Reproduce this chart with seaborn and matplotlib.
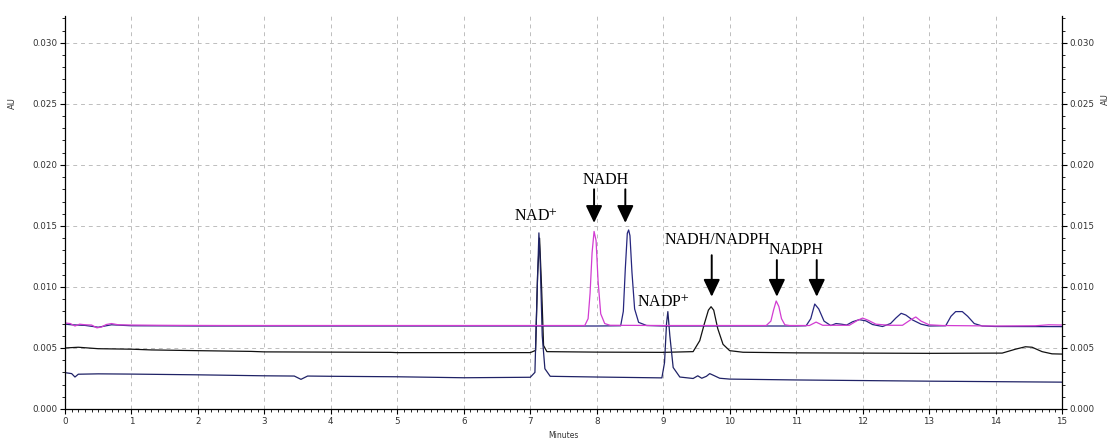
import matplotlib
matplotlib.use("Agg")
import matplotlib.pyplot as plt
from matplotlib.ticker import MultipleLocator, FormatStrFormatter
import seaborn as sns
import pandas as pd

# Chromatogram traces: retention time (min) and absorbance (AU)
magenta_t = [0.00, 0.08, 0.15, 0.22, 0.30, 0.40, 0.48, 0.55, 0.62, 0.70, 0.80, 1.00, 1.40,
             1.75, 2.40, 3.00, 4.00, 5.00, 6.00, 7.00, 7.82, 7.87, 7.90, 7.93, 7.96, 7.99,
             8.02, 8.06, 8.12, 8.20, 9.00, 10.00, 10.55, 10.62, 10.66, 10.70, 10.74, 10.78,
             10.83, 10.90, 11.20, 11.30, 11.40, 11.80, 11.92, 12.00, 12.08, 12.20, 12.40,
             12.60, 12.72, 12.80, 12.88, 13.00, 13.20, 14.00, 14.60, 14.80, 15.00]
magenta_v = [0.00705, 0.00700, 0.00680, 0.00695, 0.00690, 0.00688, 0.00665, 0.00672, 0.00692,
             0.00700, 0.00690, 0.00688, 0.00686, 0.00685, 0.00684, 0.00684, 0.00684, 0.00684,
             0.00684, 0.00684, 0.00684, 0.00740, 0.00950, 0.01280, 0.01455, 0.01380, 0.01050,
             0.00780, 0.00700, 0.00686, 0.00684, 0.00684, 0.00684, 0.00720, 0.00810, 0.00885,
             0.00840, 0.00740, 0.00690, 0.00684, 0.00684, 0.00712, 0.00686, 0.00686, 0.00725,
             0.00745, 0.00728, 0.00695, 0.00686, 0.00686, 0.00730, 0.00754, 0.00720, 0.00690,
             0.00684, 0.00680, 0.00682, 0.00690, 0.00688]

navy_top_t = [0.00, 0.10, 0.30, 0.50, 0.70, 1.00, 2.00, 3.00, 4.00, 5.00, 6.00, 7.00, 8.00,
              8.36, 8.40, 8.43, 8.46, 8.48, 8.50, 8.53, 8.57, 8.63, 8.75, 9.00, 10.00, 11.00,
              11.15, 11.22, 11.28, 11.34, 11.42, 11.52, 11.60, 11.68, 11.76, 11.85, 11.95,
              12.05, 12.15, 12.30, 12.42, 12.50, 12.58, 12.65, 12.75, 12.88, 13.00, 13.25,
              13.33, 13.40, 13.50, 13.58, 13.68, 13.80, 14.00, 15.00]
navy_top_v = [0.00695, 0.00690, 0.00685, 0.00670, 0.00690, 0.00682, 0.00680, 0.00680, 0.00680,
              0.00680, 0.00680, 0.00680, 0.00680, 0.00682, 0.00800, 0.01150, 0.01440, 0.01467,
              0.01420, 0.01120, 0.00820, 0.00710, 0.00684, 0.00680, 0.00680, 0.00680, 0.00682,
              0.00740, 0.00860, 0.00820, 0.00720, 0.00684, 0.00700, 0.00695, 0.00688, 0.00715,
              0.00732, 0.00722, 0.00692, 0.00676, 0.00700, 0.00745, 0.00784, 0.00770, 0.00730,
              0.00695, 0.00680, 0.00682, 0.00760, 0.00798, 0.00798, 0.00760, 0.00700, 0.00680,
              0.00676, 0.00675]

black_t = [0.00, 0.20, 0.50, 1.00, 1.30, 2.00, 2.80, 3.00, 4.00, 4.90, 5.00, 6.00, 7.00, 7.08,
           7.11, 7.14, 7.17, 7.20, 7.25, 8.00, 9.00, 9.45, 9.55, 9.62, 9.68, 9.72, 9.76, 9.82,
           9.90, 10.00, 10.20, 11.00, 12.00, 13.00, 14.10, 14.30, 14.45, 14.55, 14.70, 14.85,
           15.00]
black_v = [0.00500, 0.00506, 0.00494, 0.00490, 0.00484, 0.00478, 0.00472, 0.00468, 0.00466,
           0.00464, 0.00462, 0.00462, 0.00462, 0.00480, 0.01100, 0.01400, 0.01000, 0.00520,
           0.00470, 0.00466, 0.00464, 0.00470, 0.00560, 0.00700, 0.00810, 0.00838, 0.00810,
           0.00660, 0.00530, 0.00478, 0.00465, 0.00460, 0.00458, 0.00456, 0.00458, 0.00490,
           0.00510, 0.00506, 0.00470, 0.00452, 0.00450]

navy_low_t = [0.00, 0.10, 0.15, 0.20, 0.50, 1.00, 2.00, 3.00, 3.45, 3.55, 3.65, 4.00, 5.00,
              6.00, 7.00, 7.07, 7.10, 7.13, 7.15, 7.18, 7.22, 7.30, 8.00, 8.98, 9.02, 9.05,
              9.07, 9.10, 9.15, 9.25, 9.45, 9.52, 9.58, 9.65, 9.70, 9.76, 9.85, 10.00, 11.00,
              13.00, 15.00]
navy_low_v = [0.00298, 0.00290, 0.00262, 0.00285, 0.00288, 0.00286, 0.00280, 0.00272, 0.00270,
              0.00243, 0.00270, 0.00268, 0.00264, 0.00256, 0.00260, 0.00300, 0.00900, 0.01443,
              0.01200, 0.00600, 0.00330, 0.00268, 0.00262, 0.00255, 0.00380, 0.00700, 0.00798,
              0.00600, 0.00340, 0.00262, 0.00250, 0.00272, 0.00252, 0.00268, 0.00290, 0.00275,
              0.00252, 0.00245, 0.00238, 0.00228, 0.00220]

# Peak labels: text, x, y
label_text = ["NAD$^{+}$", "NADH", "NADP$^{+}$", "NADH/NADPH", "NADPH"]
label_x = [7.09, 8.14, 9.00, 9.81, 11.00]
label_y = [0.01574, 0.01877, 0.00869, 0.01385, 0.01300]

# Arrows: x, tail y, tip y
arrow_x = [7.96, 8.43, 9.73, 10.71, 11.31]
arrow_y0 = [0.01800, 0.01800, 0.01260, 0.01220, 0.01220]
arrow_y1 = [0.01525, 0.01525, 0.00920, 0.00920, 0.00920]

x_ticks = list(range(0, 16))
y_ticks = [0.000, 0.005, 0.010, 0.015, 0.020, 0.025, 0.030]

sns.set_theme(style="white")
plt.rcParams["font.family"] = ["DejaVu Sans"]
plt.rcParams["mathtext.fontset"] = "stix"

fig = plt.figure(figsize=(11.2, 4.43), dpi=100)
ax = fig.add_axes([65 / 1120, 34 / 443, 997 / 1120, 393 / 443])

traces = [
    (black_t, black_v, "#111111"),
    (navy_low_t, navy_low_v, "#1f2266"),
    (navy_top_t, navy_top_v, "#26267e"),
    (magenta_t, magenta_v, "#d23cd2"),
]
for t, v, c in traces:
    df = pd.DataFrame({"time": t, "au": v})
    sns.lineplot(data=df, x="time", y="au", ax=ax, color=c, linewidth=0.9,
                 estimator=None, sort=False)

ax.set_xlim(0, 15)
ax.set_ylim(0, 0.0322)
ax.set_xticks(x_ticks)
ax.set_yticks(y_ticks)
ax.xaxis.set_minor_locator(MultipleLocator(0.1))
ax.yaxis.set_minor_locator(MultipleLocator(0.001))
ax.yaxis.set_major_formatter(FormatStrFormatter("%.3f"))
ax.set_xlabel("")
ax.set_ylabel("")

ax.grid(True, which="major", color="#bdbdbd", linestyle=(0, (4, 4)), linewidth=0.7)
ax.set_axisbelow(True)

for side in ["left", "bottom", "right"]:
    ax.spines[side].set_visible(True)
    ax.spines[side].set_color("black")
    ax.spines[side].set_linewidth(0.9)
ax.spines["top"].set_visible(False)

ax.tick_params(axis="both", which="major", direction="out", length=3.5, width=0.8,
               labelsize=6.3, labelcolor="#333333", color="black", pad=2)
ax.tick_params(axis="both", which="minor", direction="out", length=2, width=0.6,
               color="black")
ax.tick_params(axis="y", which="both", left=True, right=True, labelleft=True,
               labelright=True)
ax.tick_params(axis="x", which="both", bottom=True, top=False)

for txt, x, y in zip(label_text, label_x, label_y):
    ax.text(x, y, txt, ha="center", va="center", fontsize=11.5,
            family="Liberation Serif", color="black")

for x, y0, y1 in zip(arrow_x, arrow_y0, arrow_y1):
    ax.annotate("", xy=(x, y1), xytext=(x, y0),
                arrowprops=dict(arrowstyle="-|>,head_length=1.05,head_width=0.5",
                                color="black", lw=1.4, shrinkA=0, shrinkB=0,
                                mutation_scale=10))

fig.text(12 / 1120, 1 - 103 / 443, "AU", rotation=90, ha="center", va="center",
         fontsize=6, color="#333333")
fig.text(1105 / 1120, 1 - 99 / 443, "AU", rotation=90, ha="center", va="center",
         fontsize=6, color="#333333")
fig.text(563 / 1120, 1 - 436 / 443, "Minutes", ha="center", va="center",
         fontsize=5.5, color="#333333")

fig.savefig("out.png", dpi=100)
